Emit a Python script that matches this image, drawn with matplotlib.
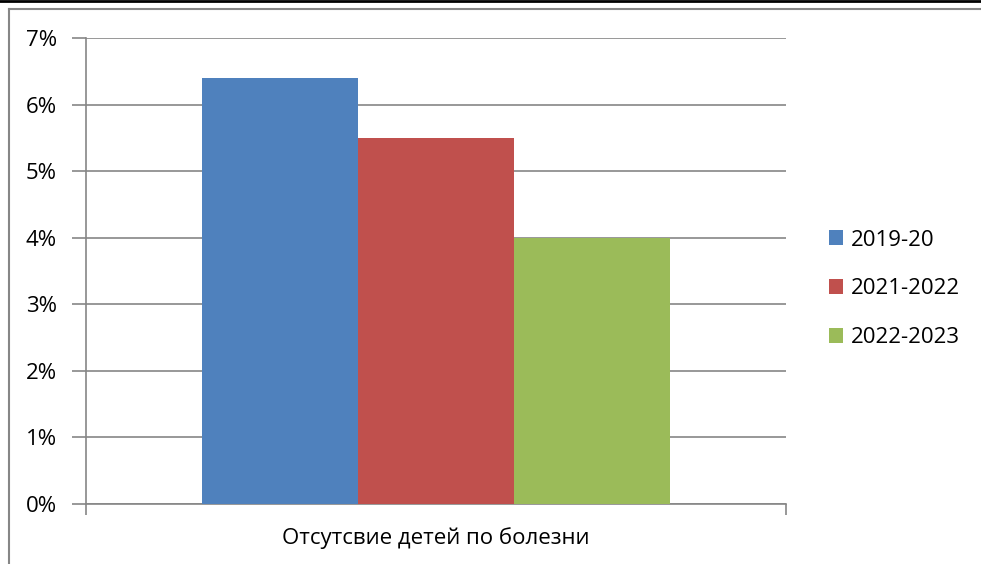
import matplotlib
matplotlib.use('Agg')
import matplotlib.pyplot as plt
from matplotlib.lines import Line2D
from matplotlib.patches import Patch
from matplotlib.ticker import PercentFormatter
from matplotlib.transforms import blended_transform_factory

plt.rcParams['font.family'] = ['Open Sans', 'DejaVu Sans']

category = 'Отсутсвие детей по болезни'
series = ['2019-20', '2021-2022', '2022-2023']
values = [6.4, 5.5, 4.0]
colors = ['#4F81BD', '#C0504D', '#9BBB59']
yticks = [0, 1, 2, 3, 4, 5, 6, 7]

W, H = 981, 564
fig = plt.figure(figsize=(W / 100, H / 100), dpi=100)
ax = fig.add_axes([86 / W, 1 - 504 / H, 700 / W, 466 / H])

# three clustered bars around the single category
bar_w = 0.223
for i, (name, v, c) in enumerate(zip(series, values, colors)):
    ax.bar((i - 1) * bar_w, v, width=bar_w, color=c, label=name, zorder=3)

ax.set_xlim(-0.5, 0.5)
ax.set_ylim(0, 7)
ax.set_yticks(yticks)
ax.yaxis.set_major_formatter(PercentFormatter(decimals=0))
ax.grid(True, axis='y', color='#868686', linewidth=1.2, zorder=0)
ax.set_xticks([-0.5, 0.5])
ax.set_xticklabels(['', ''])
ax.tick_params(axis='x', length=8, width=1.2, color='#868686', direction='out')
ax.tick_params(axis='y', length=10, width=1.2, color='#868686', direction='out',
               labelsize=16, pad=11)
for s in ['top', 'right']:
    ax.spines[s].set_visible(False)
for s in ['left', 'bottom']:
    ax.spines[s].set_color('#868686')
    ax.spines[s].set_linewidth(1.2)
ax.text(0, 1 - 538 / H, category, ha='center', va='center', fontsize=16,
        transform=blended_transform_factory(ax.transData, fig.transFigure))

handles = [Patch(facecolor=c, label=n) for n, c in zip(series, colors)]
fig.legend(handles=handles, loc='center left', bbox_to_anchor=(809 / W, 1 - 289 / H),
           frameon=False, fontsize=16, handlelength=0.65, handleheight=0.65,
           handletextpad=0.35, labelspacing=1.25)

# outer frame
fig.add_artist(Line2D([0, 1], [1 - 0.5 / H, 1 - 0.5 / H], color='black', linewidth=2,
                      transform=fig.transFigure))
fig.add_artist(Line2D([9 / W, 1], [1 - 9 / H, 1 - 9 / H], color='#868686', linewidth=1.5,
                      transform=fig.transFigure))
fig.add_artist(Line2D([9 / W, 9 / W], [0, 1 - 9 / H], color='#868686', linewidth=1.5,
                      transform=fig.transFigure))

fig.savefig('out.png', dpi=100)
